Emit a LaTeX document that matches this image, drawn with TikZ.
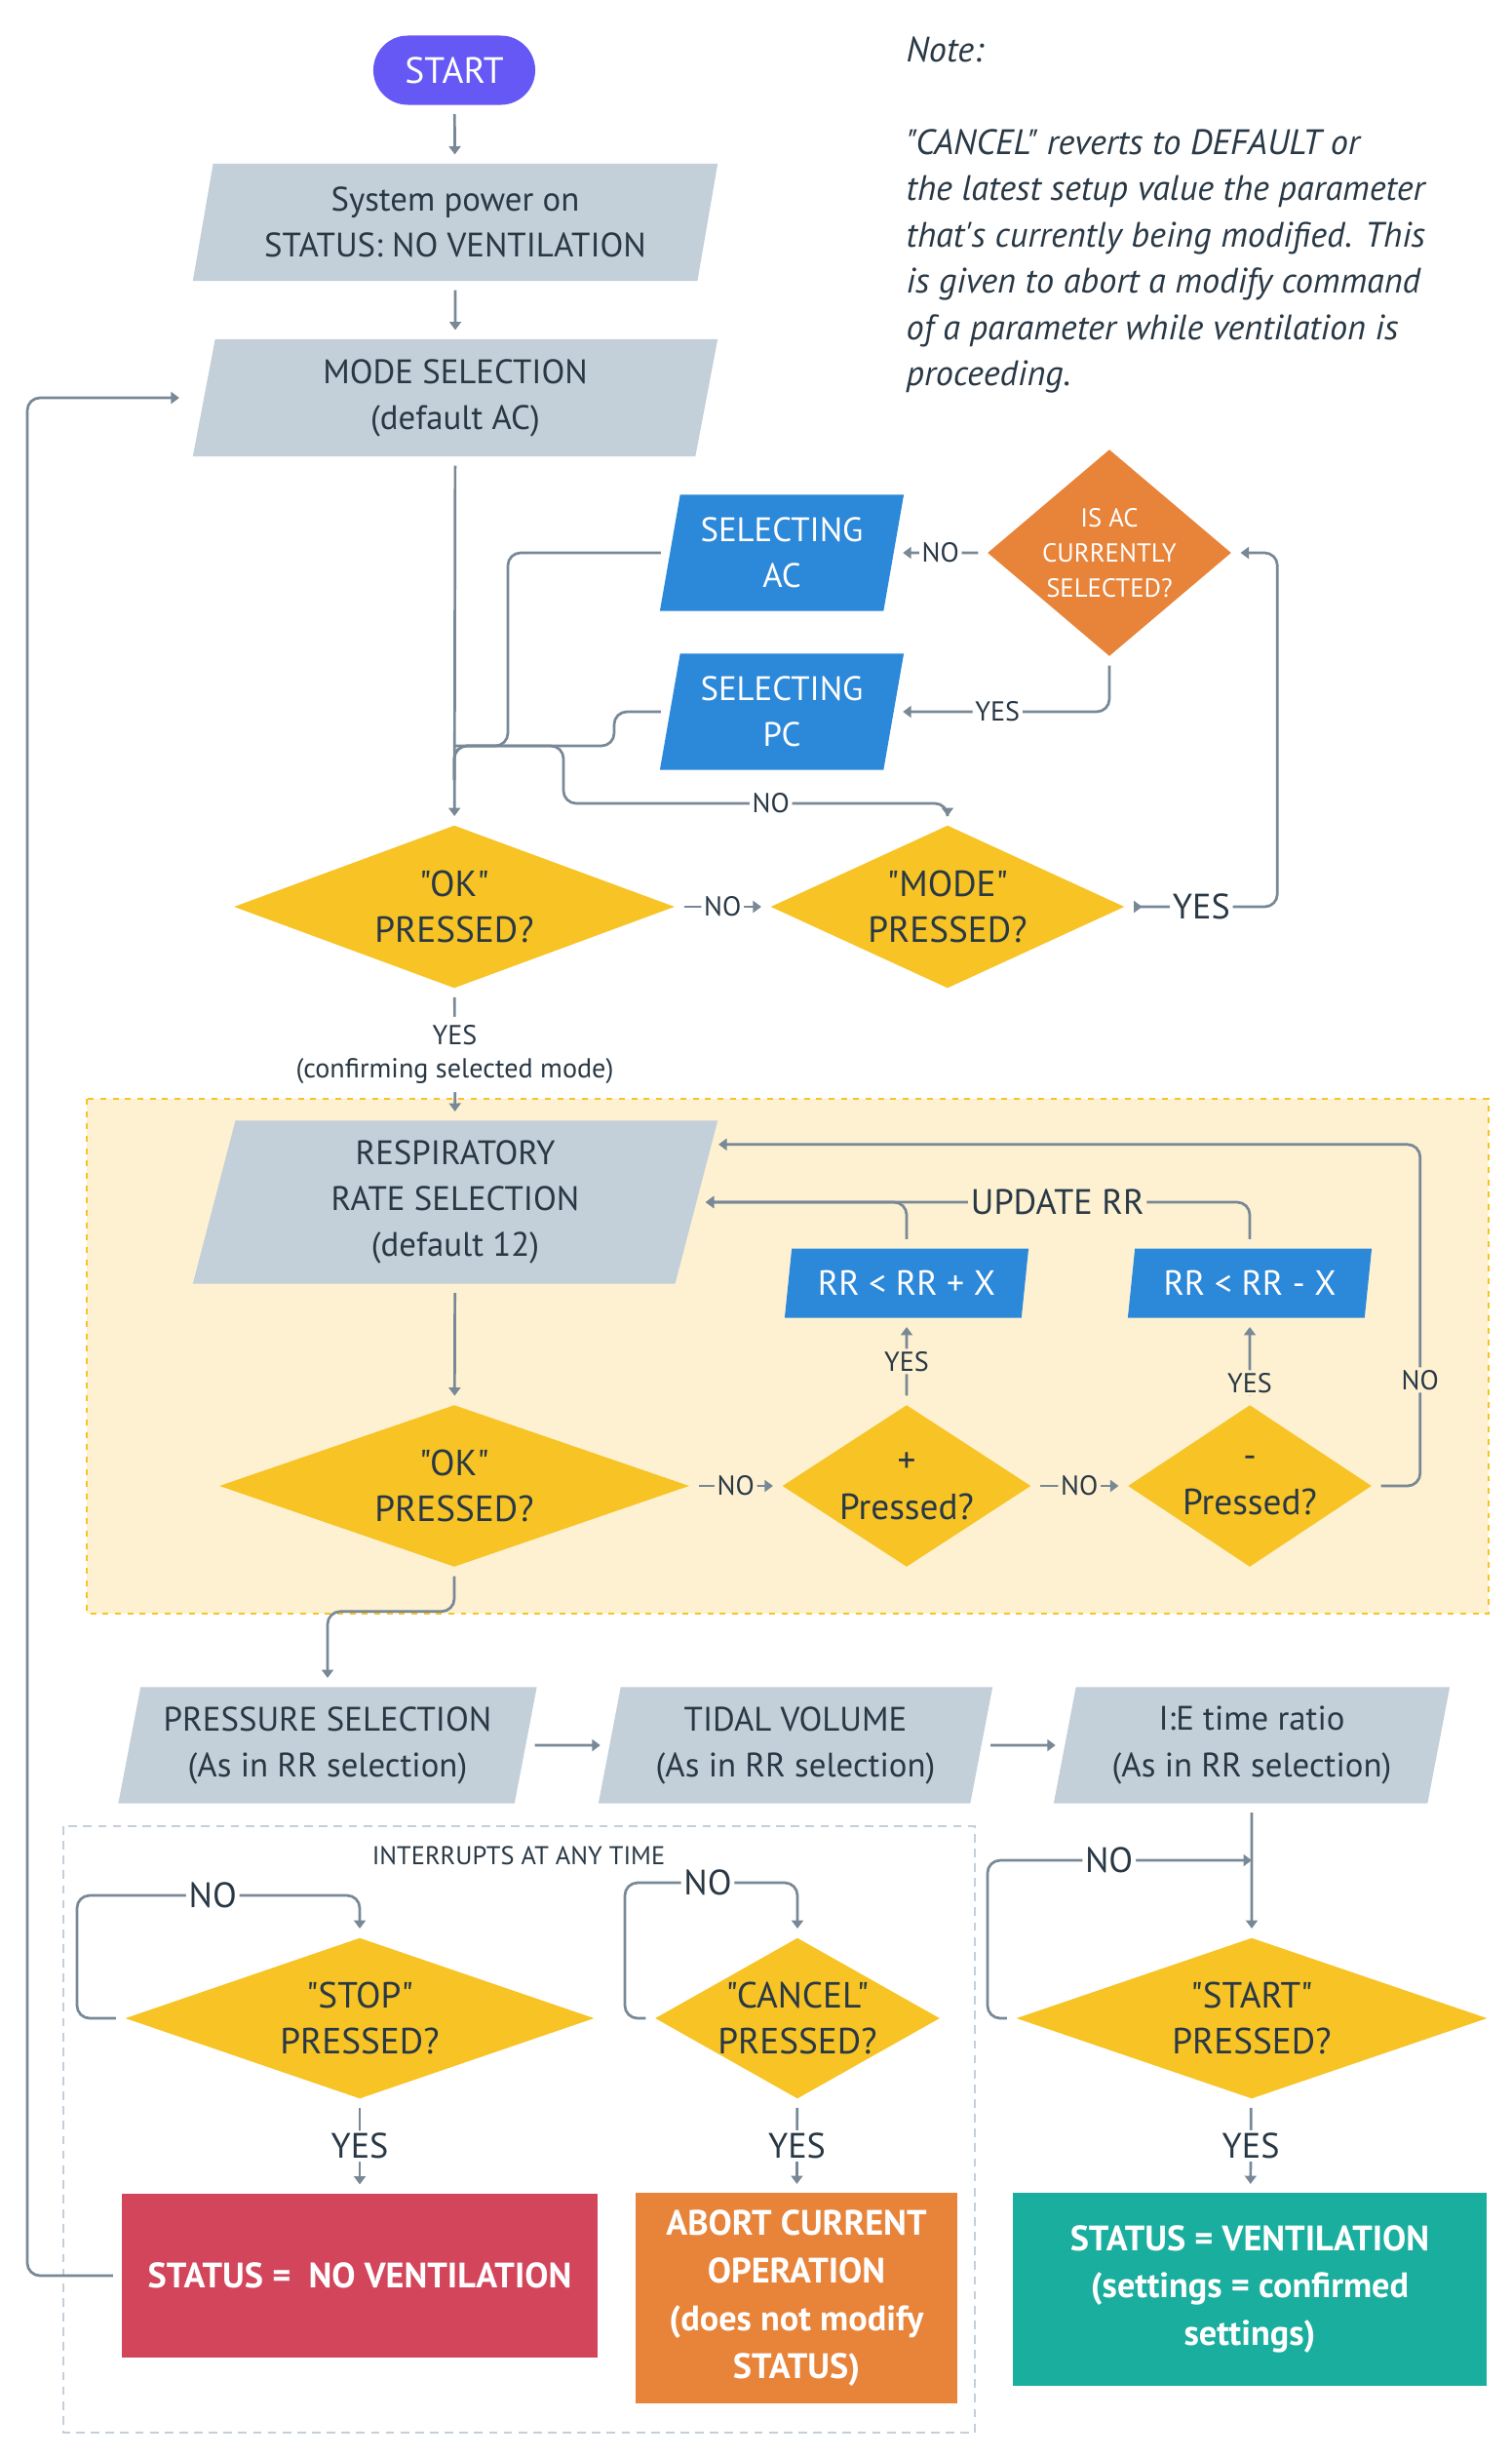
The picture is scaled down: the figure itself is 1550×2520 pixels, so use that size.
\documentclass[tikz,border=0pt]{standalone}
\usepackage{fontspec}
\setmainfont{PT Sans}[Ligatures=TeXOff]
\usetikzlibrary{shapes.geometric, arrows.meta}
\begin{document}
\begin{tikzpicture}[x=0.01cm, y=0.01cm]
            \definecolor{txt}{HTML}{293845}
            \definecolor{lin}{HTML}{788896}
            \definecolor{gri}{HTML}{C3CFD9}
            \definecolor{mov}{HTML}{6558F5}
            \definecolor{albastru}{HTML}{2C88D9}
            \definecolor{portocaliu}{HTML}{E8833A}
            \definecolor{galben}{HTML}{F7C325}
            \definecolor{rosu}{HTML}{D3455B}
            \definecolor{verde}{HTML}{1AAE9F}
            \definecolor{crem}{HTML}{FDF1D1}

            \tikzstyle{every node} = [font=\fontsize{9.9}{13.4}\selectfont, text=txt, align=center]
            \tikzstyle{inceput} = [rectangle, rounded corners=0.355cm, fill=mov, text=white, minimum width=1.66cm, minimum height=0.71cm, font=\fontsize{10.7}{12}\selectfont]
            \tikzstyle{para} = [trapezium, trapezium left angle=74, trapezium right angle=106, trapezium stretches body=true, fill=gri, inner sep=0pt]
            \tikzstyle{parab} = [para, fill=albastru, text=white]
            \tikzstyle{romb} = [diamond, fill=galben, inner sep=-4pt, font=\fontsize{10.6}{13.6}\selectfont]
            \tikzstyle{cutie} = [rectangle, text=white, font=\bfseries\fontsize{10.3}{13.9}\selectfont]
            \tikzstyle{linie} = [draw=lin, line width=0.77pt, rounded corners=0.13cm]
            \tikzstyle{sageata} = [linie, -{Triangle[width=3.4pt, length=2.4pt]}, shorten >=2.5pt, shorten <=2.5pt]
            \tikzstyle{sagdubla} = [sageata, {Triangle[reversed, width=3.4pt, length=2.4pt]}-{Triangle[width=3.4pt, length=2.4pt]}]
            \tikzstyle{eticheta} = [fill=white, inner sep=0.8pt, font=\fontsize{8}{9.5}\selectfont]
            \tikzstyle{eticheta2} = [eticheta, font=\fontsize{10.3}{12}\selectfont]

            \useasboundingbox (0,0) rectangle (1550,-2520);

            \draw[fill=crem, draw=galben, line width=0.6pt, dash pattern=on 1.7pt off 1.9pt] (89,-1127) rectangle (1527,-1655);
            \draw[draw=gri, line width=0.45pt, dash pattern=on 2.5pt off 1.8pt] (65,-1873) rectangle (1000,-2495);

            \node[inceput] (start) at (466,-72) {START};
            \node[para, minimum width=5.38cm, minimum height=1.2cm] (sys) at (467,-228) {System power on\\STATUS: NO VENTILATION};
            \node[para, minimum width=5.38cm, minimum height=1.2cm] (modsel) at (467,-408) {MODE SELECTION\\(default AC)};
            \node[parab, minimum width=2.5cm, minimum height=1.19cm] (selac) at (802,-567) {SELECTING\\AC};
            \node[parab, minimum width=2.5cm, minimum height=1.19cm] (selpc) at (802,-730) {SELECTING\\PC};
            \node[romb, fill=portocaliu, text=white, minimum width=2.5cm, minimum height=2.12cm, aspect=1.18, font=\fontsize{7.6}{10.3}\selectfont] (isac) at (1138,-567) {IS AC\\CURRENTLY\\SELECTED?};
            \node[romb, minimum width=4.52cm, minimum height=1.67cm, aspect=2.7] (ok1) at (466,-930) {"OK"\\PRESSED?};
            \node[romb, minimum width=3.63cm, minimum height=1.67cm, aspect=2.17] (mode) at (972,-930) {"MODE"\\PRESSED?};

            \node[para, trapezium left angle=71, trapezium right angle=109, minimum width=5.38cm, minimum height=1.67cm] (rr) at (467,-1233) {RESPIRATORY\\RATE SELECTION\\(default 12)};
            \node[parab, minimum width=2.5cm, minimum height=0.71cm, font=\fontsize{10.2}{12}\selectfont] (rrplus) at (930,-1316) {RR < RR + X};
            \node[parab, minimum width=2.5cm, minimum height=0.71cm, font=\fontsize{10.2}{12}\selectfont] (rrminus) at (1282,-1316) {RR < RR - X};
            \node[romb, minimum width=4.82cm, minimum height=1.66cm, aspect=2.9] (ok2) at (466,-1524) {"OK"\\PRESSED?};
            \node[romb, minimum width=2.55cm, minimum height=1.66cm, aspect=1.54] (plus) at (930,-1524) {+\\Pressed?};
            \node[romb, minimum width=2.5cm, minimum height=1.66cm, aspect=1.51] (minus) at (1282,-1524) {-\\Pressed?};

            \node[para, minimum width=4.29cm, minimum height=1.19cm] (press) at (336,-1790) {PRESSURE SELECTION\\(As in RR selection)};
            \node[para, minimum width=4.04cm, minimum height=1.19cm] (tidal) at (816,-1790) {TIDAL VOLUME\\(As in RR selection)};
            \node[para, minimum width=4.06cm, minimum height=1.19cm] (ie) at (1284,-1790) {I:E time ratio\\(As in RR selection)};

            \node[font=\fontsize{7.5}{9}\selectfont] (intr) at (532,-1903) {INTERRUPTS AT ANY TIME};
            \node[romb, minimum width=4.81cm, minimum height=1.65cm, aspect=2.9] (stop) at (369,-2070) {"STOP"\\PRESSED?};
            \node[romb, minimum width=2.92cm, minimum height=1.65cm, aspect=1.77] (cancel) at (818,-2070) {"CANCEL"\\PRESSED?};
            \node[romb, minimum width=4.83cm, minimum height=1.65cm, aspect=2.9] (startp) at (1284,-2070) {"START"\\PRESSED?};
            \coordinate (intrare) at (1284,-1908);

            \node[cutie, fill=rosu, minimum width=4.87cm, minimum height=1.68cm] (stnov) at (369,-2334) {STATUS =\ \ NO VENTILATION};
            \node[cutie, fill=portocaliu, minimum width=3.3cm, minimum height=2.15cm] (abort) at (817,-2357) {ABORT CURRENT\\OPERATION\\(does not modify\\STATUS)};
            \node[cutie, fill=verde, minimum width=4.85cm, minimum height=1.97cm] (stvent) at (1282,-2348) {STATUS = VENTILATION\\(settings = confirmed\\settings)};

            \node[anchor=north west, inner sep=0pt, align=left, font=\itshape\fontsize{10.3}{13.5}\selectfont] (nota) at (929,-37) {Note:\\ \\"CANCEL" reverts to DEFAULT or\\the latest setup value the parameter\\that's currently being modified. This\\is given to abort a modify command\\of a parameter while ventilation is\\proceeding.};

            \coordinate (nod) at (466,-765);
            \coordinate (jos) at (466,-800);

            \draw[sageata] (start) -- (sys);
            \draw[sageata] (sys) -- (modsel);
            \draw[sageata] (modsel) -- (ok1);
            \draw[sageata] (isac) -- node[eticheta]{NO} (selac);
            \draw[sageata] (isac.south) |- node[eticheta, pos=0.76]{YES} (selpc.east);
            \draw[linie, shorten <=2.5pt] (selac.west) -| (521,-765) -| (jos);
            \draw[linie, shorten <=2.5pt] (selpc.west) -| (630,-765) -| (jos);
            \draw[sageata, shorten <=0pt] (nod) -| (578,-824) -| node[eticheta, pos=0.27]{NO} (mode.north);
            \draw[sageata] (ok1) -- node[eticheta]{NO} (mode);
            \draw[sagdubla] (mode.east) -- node[eticheta2]{YES} ++(156,0) |- (isac.east);
            \draw[sageata] (ok1) -- node[eticheta, inner sep=2.5pt]{YES\\(confirming selected mode)} (rr);

            \draw[sageata] (rr) -- (ok2);
            \draw[sageata] (ok2) -- node[eticheta, fill=crem]{NO} (plus);
            \draw[sageata] (plus) -- node[eticheta, fill=crem]{NO} (minus);
            \draw[sageata] (plus) -- node[eticheta, fill=crem]{YES} (rrplus);
            \draw[sageata] (minus) -- node[eticheta, fill=crem, pos=0.25]{YES} (rrminus);
            \draw[sageata, shorten >=0pt] (minus.east) -- ++(49,0) |- node[eticheta, fill=crem, pos=0.155]{NO} ([yshift=-0.25cm]rr.top right corner);
            \draw[sageata] (rrplus.north) |- (rr.east);
            \draw[sageata] (rrminus.north) |- node[eticheta2, fill=crem, pos=0.674]{UPDATE RR} (rr.east);
            \draw[sageata] (ok2.south) -- ++(0,-45) -| (press.north);

            \draw[sageata] (press) -- (tidal);
            \draw[sageata] (tidal) -- (ie);
            \draw[sageata] (ie) -- (startp);
            \draw[sageata, shorten >=0pt] (startp.west) -| (1013,-1908) -- node[eticheta2, pos=0.46]{NO} (intrare);
            \draw[sageata] (stop.west) -| (79,-1944) -| node[eticheta2, pos=0.24]{NO} (stop.north);
            \draw[sageata] (cancel.west) -| (641,-1931) -| node[eticheta2, pos=0.24]{NO} (cancel.north);
            \draw[sageata] (stop) -- node[eticheta2]{YES} (stnov);
            \draw[sageata] (cancel) -- node[eticheta2]{YES} (abort);
            \draw[sageata] (startp) -- node[eticheta2]{YES} (stvent);
            \draw[sageata, shorten >=7pt] (stnov.west) -| (28,-408) -- (modsel.west);
        \end{tikzpicture}
\end{document}
